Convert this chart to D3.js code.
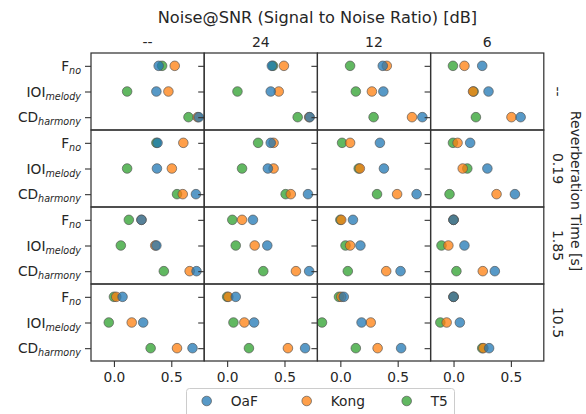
<!DOCTYPE html>
<html>
<head>
<meta charset="utf-8">
<script src="https://cdn.jsdelivr.net/npm/d3@7"></script>
<style>
  body { margin: 0; background: #fff; }
  svg { font-family: "DejaVu Sans", sans-serif; }
</style>
</head>
<body>
<svg width="586" height="414"></svg>
<script>
var snrLabels = ['--', '24', '12', '6'];
var reverbLabels = ['--', '0.19', '1.85', '10.5'];
var metrics = ['F', 'IOI', 'CD'];
var metricSubs = ['no', 'melody', 'harmony'];
var models = ['OaF', 'Kong', 'T5'];
var xTicks = [0.0, 0.5];

// values[reverb][snr] = [F_no, IOI_melody, CD_harmony]
var oafValues = [
    [[0.39, 0.37, 0.74], [0.39, 0.38, 0.72], [0.37, 0.375, 0.715], [0.25, 0.305, 0.585]],
    [[0.38, 0.375, 0.715], [0.38, 0.355, 0.705], [0.345, 0.38, 0.665], [0.145, 0.295, 0.535]],
    [[0.24, 0.37, 0.72], [0.225, 0.35, 0.715], [0.11, 0.175, 0.525], [0.0, 0.095, 0.36]],
    [[0.075, 0.255, 0.685], [0.075, 0.235, 0.68], [0.03, 0.185, 0.53], [0.0, 0.055, 0.31]]
];
var kongValues = [
    [[0.53, 0.475, 0.73], [0.495, 0.45, 0.715], [0.405, 0.275, 0.625], [0.095, 0.17, 0.505]],
    [[0.605, 0.505, 0.60], [0.405, 0.405, 0.555], [0.085, 0.17, 0.495], [0.035, 0.08, 0.375]],
    [[0.24, 0.36, 0.66], [0.13, 0.24, 0.60], [0.008, 0.085, 0.40], [0.0, -0.045, 0.255]],
    [[0.02, 0.155, 0.55], [0.01, 0.15, 0.53], [0.008, 0.265, 0.325], [0.0, -0.06, 0.26]]
];
var t5Values = [
    [[0.42, 0.115, 0.65], [0.40, 0.09, 0.615], [0.085, 0.135, 0.29], [-0.005, 0.175, 0.195]],
    [[0.37, 0.115, 0.55], [0.27, 0.13, 0.51], [0.015, 0.16, 0.32], [-0.005, 0.12, -0.035]],
    [[0.13, 0.06, 0.435], [0.045, 0.075, 0.315], [0.0, 0.045, 0.065], [0.0, -0.105, 0.025]],
    [[0.0, -0.045, 0.32], [0.0, 0.055, 0.19], [-0.012, -0.16, 0.135], [0.0, -0.115, 0.25]]
];

var colors = {OaF: '#1f77b4', Kong: '#ff7f0e', T5: '#2ca02c'};
var valuesByModel = {OaF: oafValues, Kong: kongValues, T5: t5Values};
var drawOrder = ['T5', 'Kong', 'OaF'];

var svg = d3.select('svg');
var textColor = '#262626';
var frameColor = '#333333';
var tickFont = '13.75px';

var plotLeft = 91, plotTop = 53;
var panelW = 113.2, panelH = 77;

var x = d3.scaleLinear().domain([-0.2, 0.787]).range([0, panelW]);
var y = d3.scalePoint().domain(metrics).range([0, panelH]).padding(0.5);

// titles
svg.append('text')
    .attr('x', plotLeft + 2 * panelW)
    .attr('y', 23)
    .attr('text-anchor', 'middle')
    .style('font-size', '16.2px')
    .style('fill', textColor)
    .text('Noise@SNR (Signal to Noise Ratio) [dB]');

svg.selectAll('text.colTitle')
    .data(snrLabels)
    .enter()
    .append('text')
    .attr('class', 'colTitle')
    .attr('x', function (d, i) { return plotLeft + (i + 0.5) * panelW; })
    .attr('y', 47)
    .attr('text-anchor', 'middle')
    .style('font-size', '14px')
    .style('fill', textColor)
    .text(function (d) { return d; });

svg.selectAll('text.rowTitle')
    .data(reverbLabels)
    .enter()
    .append('text')
    .attr('class', 'rowTitle')
    .attr('transform', function (d, i) {
        return 'translate(' + 553 + ',' + (plotTop + (i + 0.5) * panelH) + ') rotate(90)';
    })
    .attr('text-anchor', 'middle')
    .style('font-size', '14px')
    .style('fill', textColor)
    .text(function (d) { return d; });

svg.append('text')
    .attr('transform', 'translate(571,191) rotate(90)')
    .attr('text-anchor', 'middle')
    .style('font-size', '14px')
    .style('fill', textColor)
    .text('Reverberation Time [s]');

// panels
for (var r = 0; r < reverbLabels.length; ++r) {
    for (var c = 0; c < snrLabels.length; ++c) {
        var g = svg.append('g')
            .attr('transform', 'translate(' + (plotLeft + c * panelW) + ',' + (plotTop + r * panelH) + ')');

        var yAxis = d3.axisLeft(y).tickSize(6).tickPadding(4)
            .tickFormat(function () { return ''; });
        var ya = g.append('g').call(yAxis);
        ya.select('.domain').remove();
        ya.selectAll('.tick line').attr('stroke', frameColor).attr('stroke-width', 1.1);

        if (c === 0) {
            ya.selectAll('.tick text').each(function (d, i) {
                var t = d3.select(this)
                    .style('font-size', tickFont)
                    .style('font-family', '"DejaVu Sans", sans-serif')
                    .style('fill', textColor)
                    .attr('dy', '0.35em');
                t.append('tspan').text(metrics[i]);
                t.append('tspan')
                    .attr('baseline-shift', '-25%')
                    .style('font-size', '9.6px')
                    .style('font-style', 'italic')
                    .text(metricSubs[i]);
            });
        }

        if (r === reverbLabels.length - 1) {
            var xAxis = d3.axisBottom(x).tickValues(xTicks).tickSize(6).tickPadding(5)
                .tickFormat(d3.format('.1f'));
            var xa = g.append('g').attr('transform', 'translate(0,' + panelH + ')').call(xAxis);
            xa.select('.domain').remove();
            xa.selectAll('.tick line').attr('stroke', frameColor).attr('stroke-width', 1.1);
            xa.selectAll('.tick text')
                .style('font-size', tickFont)
                .style('font-family', '"DejaVu Sans", sans-serif')
                .style('fill', textColor);
        }

        var clipId = 'clip' + r + '_' + c;
        g.append('clipPath').attr('id', clipId)
            .append('rect').attr('width', panelW).attr('height', panelH);

        var pts = [];
        drawOrder.forEach(function (m) {
            valuesByModel[m][r][c].forEach(function (v, i) {
                pts.push({model: m, metric: metrics[i], value: v});
            });
        });

        g.append('g').attr('clip-path', 'url(#' + clipId + ')')
            .selectAll('circle')
            .data(pts)
            .enter()
            .append('circle')
            .attr('cx', function (d) { return x(d.value); })
            .attr('cy', function (d) { return y(d.metric); })
            .attr('r', 4.8)
            .style('fill', function (d) { return colors[d.model]; })
            .style('fill-opacity', 0.75)
            .style('stroke', '#555')
            .style('stroke-opacity', 0.75)
            .style('stroke-width', 0.9);

        g.append('rect')
            .attr('width', panelW)
            .attr('height', panelH)
            .style('fill', 'none')
            .style('stroke', frameColor)
            .style('stroke-width', 1.25);
    }
}

// legend
var legend = svg.append('g');
legend.append('rect')
    .attr('x', 186.5).attr('y', 388.5)
    .attr('width', 268).attr('height', 36)
    .attr('rx', 3)
    .style('fill', '#fff')
    .style('stroke', '#cccccc')
    .style('stroke-width', 1);

var legendX = d3.scalePoint().domain(models).range([206.7, 406.7]);
var items = legend.selectAll('g.item')
    .data(models)
    .enter()
    .append('g')
    .attr('class', 'item')
    .attr('transform', function (d) { return 'translate(' + legendX(d) + ',401)'; });

items.append('circle')
    .attr('r', 4.8)
    .style('fill', function (d) { return colors[d]; })
    .style('fill-opacity', 0.75)
    .style('stroke', '#555')
    .style('stroke-opacity', 0.75)
    .style('stroke-width', 0.9);

items.append('text')
    .attr('x', 24)
    .attr('dy', '0.35em')
    .style('font-size', tickFont)
    .style('fill', textColor)
    .text(function (d) { return d; });
</script>
</body>
</html>
